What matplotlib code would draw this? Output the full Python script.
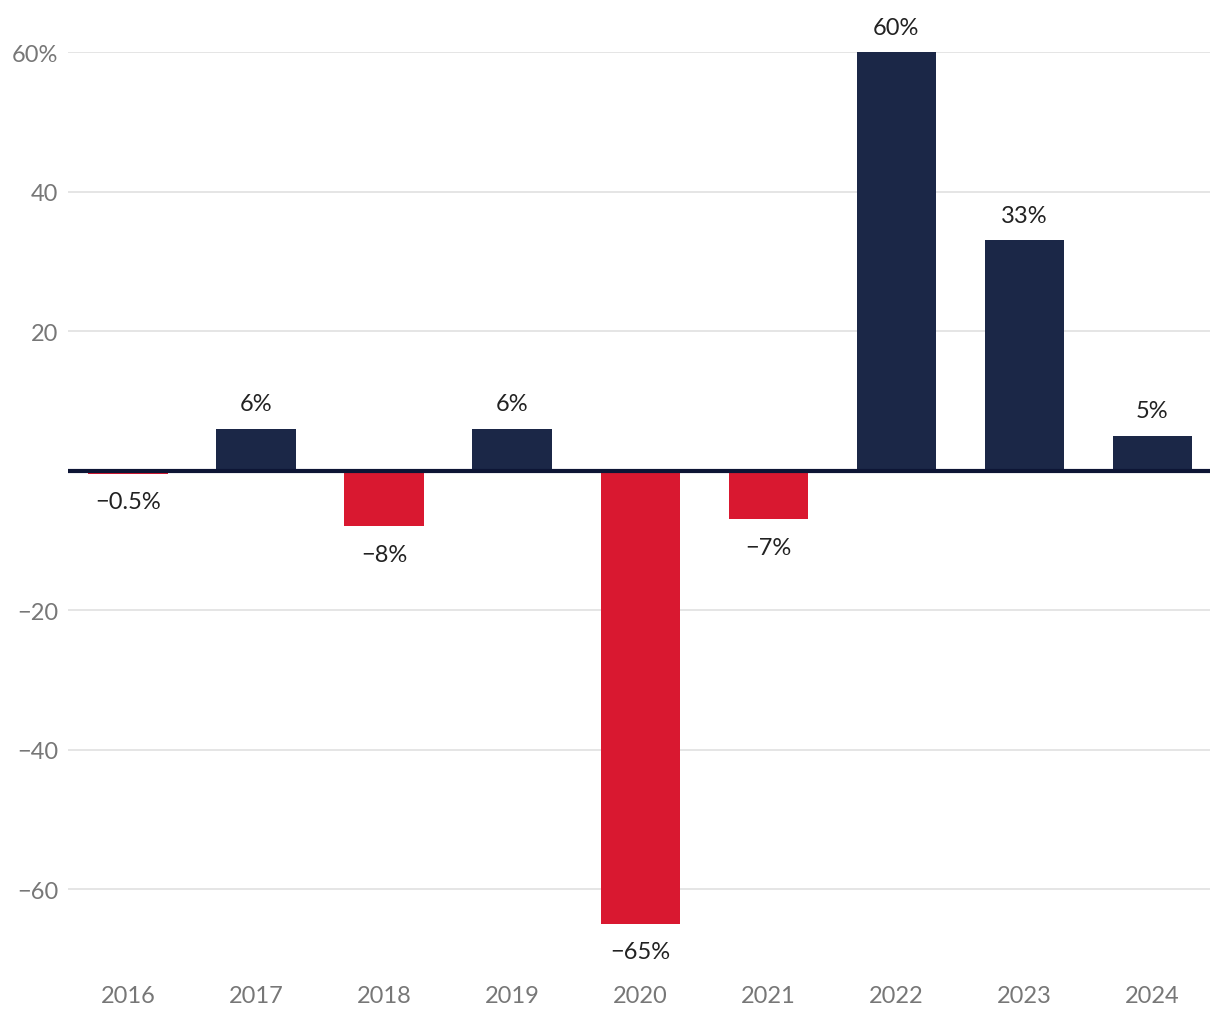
import matplotlib.pyplot as plt
import numpy as np

plt.rcParams['font.family'] = ['Lato', 'DejaVu Sans']

years = ['2016', '2017', '2018', '2019', '2020', '2021', '2022', '2023', '2024']
change = [-0.5, 6, -8, 6, -65, -7, 60, 33, 5]
labels = ['−0.5%', '6%', '−8%', '6%', '−65%', '−7%', '60%', '33%', '5%']
yticks = [-60, -40, -20, 20, 40, 60]
yticklabels = ['−60', '−40', '−20', '20', '40', '60%']

navy = '#1b2747'
red = '#d91830'

fig = plt.figure(figsize=(12.2, 10.2), dpi=100)
ax = fig.add_axes([0.0557, 0.059, 0.936, 0.889])

x = np.arange(len(years))
colors = [navy if v >= 0 else red for v in change]
ax.bar(x, change, width=0.62, color=colors, zorder=2)
ax.axhline(0, color='#0d1535', lw=3, zorder=3)

for xi, v, lab in zip(x, change, labels):
    off = 18 if v >= 0 else -20
    ax.annotate(lab, (xi, v), xytext=(0, off), textcoords='offset points',
                ha='center', va='center', fontsize=17, color='#222222')

ax.set_xlim(-0.47, 8.45)
ax.set_ylim(-70, 60)
ax.set_yticks(yticks)
ax.set_yticklabels(yticklabels)
ax.set_xticks(x)
ax.set_xticklabels(years)
ax.yaxis.grid(True, color='#e3e3e3', lw=1.3, zorder=0)
ax.tick_params(length=0, labelsize=17, labelcolor='#777777')
ax.tick_params(axis='x', pad=19)
ax.tick_params(axis='y', pad=7)
for s in ax.spines.values():
    s.set_visible(False)

fig.savefig('out.png', dpi=100)
